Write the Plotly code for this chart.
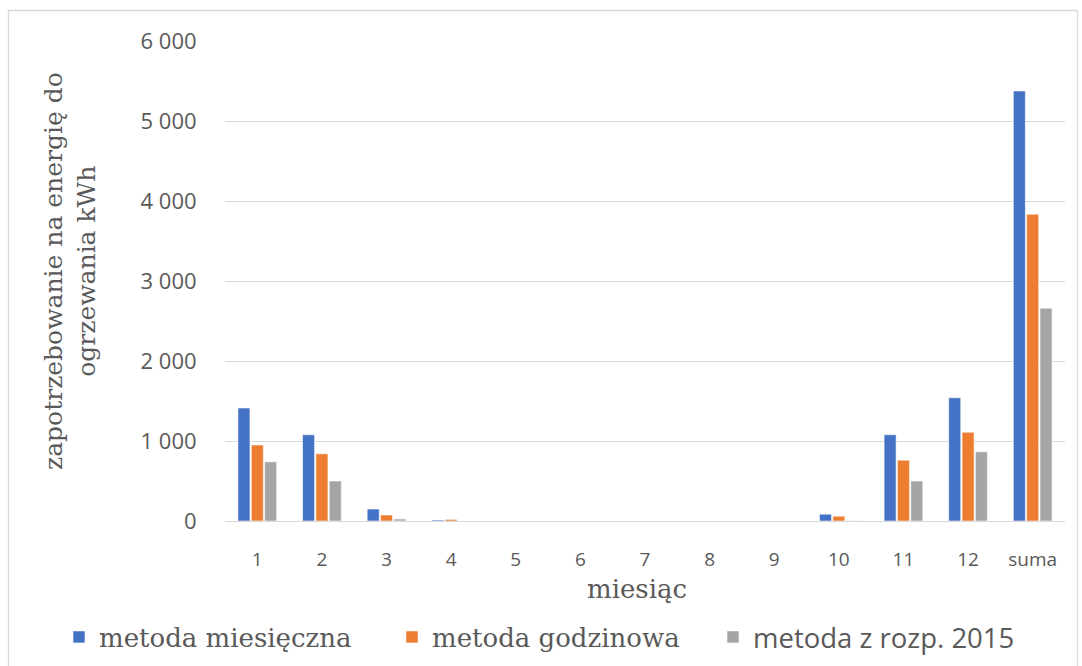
import plotly.graph_objects as go

# Monthly heating energy demand (kWh) for three calculation methods
categories = ["1", "2", "3", "4", "5", "6", "7", "8", "9", "10", "11", "12", "suma"]
metoda_miesieczna = [1412, 1078, 150, 12, 0, 0, 0, 0, 0, 85, 1078, 1540, 5375]
metoda_godzinowa = [950, 840, 75, 20, 0, 0, 0, 0, 0, 60, 760, 1110, 3835]
metoda_rozp_2015 = [740, 500, 25, 0, 0, 0, 0, 0, 0, 5, 500, 865, 2660]

series_names = ["metoda miesięczna", "metoda godzinowa", "metoda z rozp. 2015"]
series_colors = ["#4472C4", "#ED7D31", "#A5A5A5"]

W, H = 1082, 666
L, R, T, B = 225, 1065, 41, 521  # plot area in pixels


def px_x(p):
    return (p - L) / (R - L)


def px_y(p):
    return (B - p) / (B - T)


text_color = "#595959"
serif = "DejaVu Serif"
sans = "Open Sans"

# each series gets its own legend box so entries can be placed and styled separately
legend_ids = ["legend", "legend2", "legend3"]
legend_left = [59, 392, 713]
legend_fonts = [dict(family=serif, size=26), dict(family=serif, size=26), dict(family=sans, size=27.5)]

fig = go.Figure()
for name, vals, col, lid in zip(series_names,
                                [metoda_miesieczna, metoda_godzinowa, metoda_rozp_2015],
                                series_colors, legend_ids):
    fig.add_trace(go.Bar(
        x=categories, y=vals, name=name, legend=lid,
        marker=dict(color=col, line=dict(color="rgba(255,255,255,0.7)", width=0.8)),
    ))

legend_layout = {}
for lid, lx, lf in zip(legend_ids, legend_left, legend_fonts):
    legend_layout[lid] = dict(
        orientation="h", x=px_x(lx), xanchor="left",
        y=px_y(637), yanchor="middle",
        font=dict(color=text_color, **lf),
        bgcolor="rgba(0,0,0,0)",
    )

fig.update_layout(
    width=W, height=H,
    margin=dict(l=L, r=W - R, t=T, b=H - B, autoexpand=False),
    paper_bgcolor="white", plot_bgcolor="white",
    barmode="group", bargap=0.38, bargroupgap=0.1,
    separators=", ",
    showlegend=True,
    xaxis=dict(
        type="category",
        showgrid=False, showline=False, zeroline=False,
        ticks="outside", ticklen=21, tickcolor="rgba(0,0,0,0)",
        tickfont=dict(family=sans, size=19, color=text_color),
        tickangle=0,
    ),
    yaxis=dict(
        range=[0, 6000], tickvals=[0, 1000, 2000, 3000, 4000, 5000, 6000],
        tickformat=",d",
        showgrid=True, gridcolor="#D9D9D9", gridwidth=1.3,
        zeroline=True, zerolinecolor="#D9D9D9", zerolinewidth=1.3,
        showline=False,
        ticks="outside", ticklen=23, tickcolor="rgba(0,0,0,0)",
        tickfont=dict(family=sans, size=22, color=text_color),
    ),
    annotations=[
        dict(
            text="zapotrzebowanie na energię do<br>ogrzewania kWh",
            xref="paper", yref="paper", x=px_x(70), y=px_y(271),
            xanchor="center", yanchor="middle", textangle=-90, showarrow=False,
            font=dict(family=serif, size=25, color=text_color),
        ),
        dict(
            text="miesiąc",
            xref="paper", yref="paper", x=px_x(637), y=px_y(589),
            xanchor="center", yanchor="middle", showarrow=False,
            font=dict(family=serif, size=26, color=text_color),
        ),
    ],
    shapes=[
        dict(
            type="rect", xref="paper", yref="paper",
            x0=px_x(8.5), x1=px_x(1077.5), y0=px_y(690), y1=px_y(10.5),
            line=dict(color="#D9D9D9", width=1.3), fillcolor="rgba(0,0,0,0)",
            layer="below",
        ),
    ],
    **legend_layout,
)

fig.write_html("out.html")
